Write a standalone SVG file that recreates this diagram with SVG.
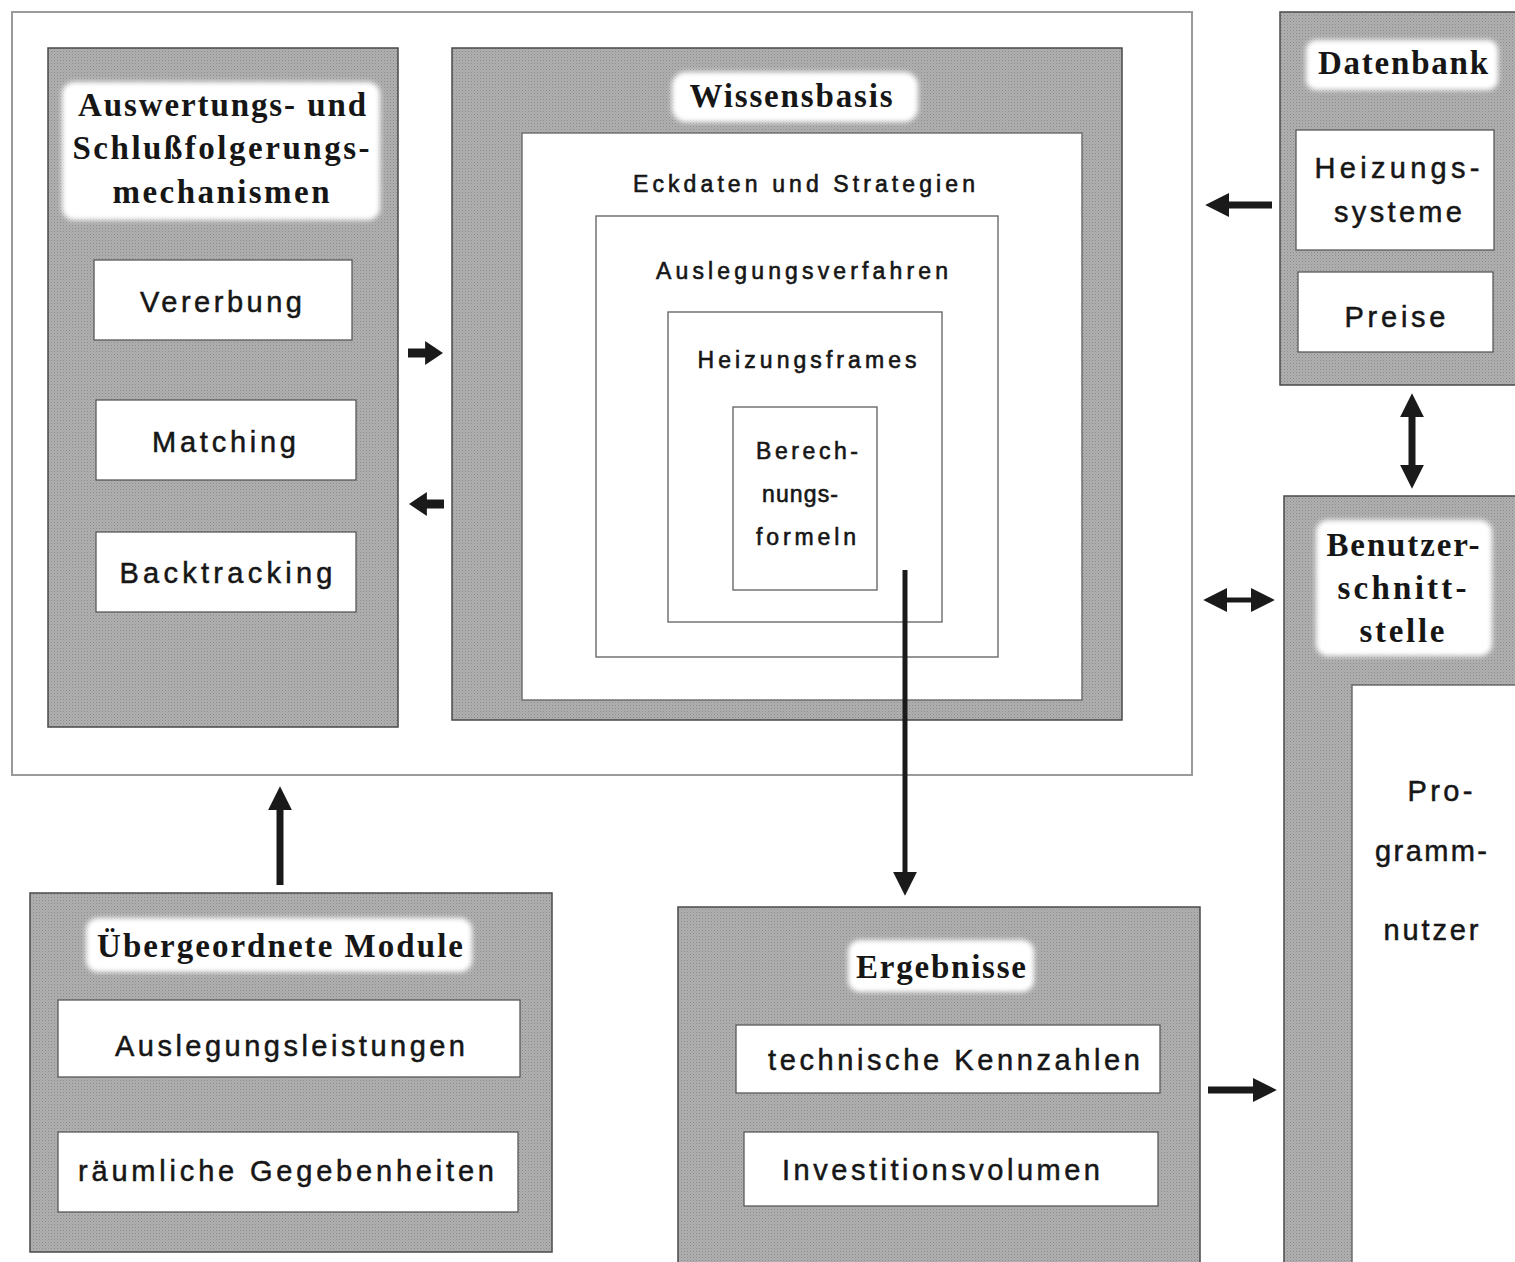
<svg xmlns="http://www.w3.org/2000/svg" width="1515" height="1262" viewBox="0 0 1515 1262">
  <defs>
    <style>
      .panel { fill: url(#stipple); stroke: #4a4a4a; stroke-width: 1.5; }
      .head { fill: #ffffff; filter: url(#soft); }
      .item { fill: #ffffff; stroke: #5a5a5a; stroke-width: 1.3; }
      .nest { fill: #ffffff; stroke: #6a6a6a; stroke-width: 1.4; }
      .frame { fill: #ffffff; stroke: #9a9a9a; stroke-width: 2; }
      .hd { font-family: "Liberation Serif", "Times New Roman", serif; font-weight: bold; font-size: 33px; fill: #161616; text-anchor: middle; }
      .it { font-family: "Liberation Sans", Arial, sans-serif; font-size: 29px; fill: #161616; stroke: #161616; stroke-width: 0.5; text-anchor: middle; }
      .kb { font-family: "Liberation Sans", Arial, sans-serif; font-size: 23px; fill: #161616; stroke: #161616; stroke-width: 0.6; text-anchor: middle; }
      .conn { stroke: #1a1a1a; fill: none; }
    </style>
    <pattern id="stipple" width="3" height="3" patternUnits="userSpaceOnUse">
      <rect width="3" height="3" fill="#b0b0b0"/>
      <rect x="0" y="0" width="1" height="1" fill="#8a8a8a"/>
      <rect x="1.5" y="1.5" width="1" height="1" fill="#989898"/>
    </pattern>
    <filter id="soft" x="-10%" y="-20%" width="120%" height="140%">
      <feGaussianBlur stdDeviation="2.5"/>
    </filter>
    <marker id="hs" viewBox="0 0 10 10" refX="0.5" refY="5" markerUnits="userSpaceOnUse" markerWidth="18" markerHeight="24" orient="auto-start-reverse" preserveAspectRatio="none">
      <path d="M0,0 L10,5 L0,10 z" fill="#1a1a1a"/>
    </marker>
    <marker id="hm" viewBox="0 0 10 10" refX="0.5" refY="5" markerUnits="userSpaceOnUse" markerWidth="24" markerHeight="24" orient="auto-start-reverse" preserveAspectRatio="none">
      <path d="M0,0 L10,5 L0,10 z" fill="#1a1a1a"/>
    </marker>
  </defs>

  <rect width="1515" height="1262" fill="#ffffff"/>

  <!-- enclosing system frame -->
  <rect id="system-frame" class="frame" x="12" y="12" width="1180" height="763"/>

  <!-- inference mechanisms -->
  <g id="node-auswertung">
    <rect class="panel" x="48" y="48" width="350" height="679"/>
    <rect class="head" x="62" y="82" width="318" height="138" rx="12"/>
    <text class="hd" x="222" y="116" textLength="288" lengthAdjust="spacing">Auswertungs- und</text>
    <text class="hd" x="221" y="159" textLength="297" lengthAdjust="spacing">Schlußfolgerungs-</text>
    <text class="hd" x="221" y="203" textLength="217" lengthAdjust="spacing">mechanismen</text>
    <g id="node-vererbung">
      <rect class="item" x="94" y="260" width="258" height="80"/>
      <text class="it" x="221" y="312" textLength="162" lengthAdjust="spacing">Vererbung</text>
    </g>
    <g id="node-matching">
      <rect class="item" x="96" y="400" width="260" height="80"/>
      <text class="it" x="224" y="452" textLength="144" lengthAdjust="spacing">Matching</text>
    </g>
    <g id="node-backtracking">
      <rect class="item" x="96" y="532" width="260" height="80"/>
      <text class="it" x="226" y="583" textLength="213" lengthAdjust="spacing">Backtracking</text>
    </g>
  </g>

  <!-- knowledge base with nested layers -->
  <g id="node-wissensbasis">
    <rect class="panel" x="452" y="48" width="670" height="672"/>
    <rect class="head" x="672" y="72" width="246" height="50" rx="14"/>
    <text class="hd" x="791" y="107" textLength="203" lengthAdjust="spacing">Wissensbasis</text>
    <g id="node-eckdaten">
      <rect class="nest" x="522" y="133" width="560" height="567"/>
      <text class="kb" x="804" y="192" textLength="342" lengthAdjust="spacing">Eckdaten und Strategien</text>
    </g>
    <g id="node-auslegungsverfahren">
      <rect class="nest" x="596" y="216" width="402" height="441"/>
      <text class="kb" x="802" y="279" textLength="292" lengthAdjust="spacing">Auslegungsverfahren</text>
    </g>
    <g id="node-heizungsframes">
      <rect class="nest" x="668" y="312" width="274" height="310"/>
      <text class="kb" x="807" y="368" textLength="219" lengthAdjust="spacing">Heizungsframes</text>
    </g>
    <g id="node-berechnungsformeln">
      <rect class="nest" x="733" y="407" width="144" height="183"/>
      <text class="kb" x="807" y="459" font-size="21" textLength="102" lengthAdjust="spacing">Berech-</text>
      <text class="kb" x="800" y="502" font-size="21" textLength="76" lengthAdjust="spacing">nungs-</text>
      <text class="kb" x="806" y="545" font-size="21" textLength="100" lengthAdjust="spacing">formeln</text>
    </g>
  </g>

  <!-- database -->
  <g id="node-datenbank">
    <rect class="panel" x="1280" y="12" width="245" height="373"/>
    <rect class="head" x="1306" y="40" width="192" height="50" rx="10"/>
    <text class="hd" x="1403" y="74" textLength="170" lengthAdjust="spacing">Datenbank</text>
    <g id="node-heizungssysteme">
      <rect class="item" x="1296" y="130" width="198" height="120"/>
      <text class="it" x="1397" y="178" font-size="28" textLength="165" lengthAdjust="spacing">Heizungs-</text>
      <text class="it" x="1398" y="222" font-size="28" textLength="128" lengthAdjust="spacing">systeme</text>
    </g>
    <g id="node-preise">
      <rect class="item" x="1298" y="272" width="195" height="80"/>
      <text class="it" x="1395" y="327" font-size="28" textLength="101" lengthAdjust="spacing">Preise</text>
    </g>
  </g>

  <!-- user interface -->
  <g id="node-benutzerschnittstelle">
    <rect class="panel" x="1284" y="496" width="245" height="775"/>
    <rect class="head" x="1316" y="520" width="176" height="136" rx="12"/>
    <text class="hd" x="1403" y="556" textLength="153" lengthAdjust="spacing">Benutzer-</text>
    <text class="hd" x="1402" y="599" textLength="129" lengthAdjust="spacing">schnitt-</text>
    <text class="hd" x="1402" y="642" textLength="85" lengthAdjust="spacing">stelle</text>
    <g id="node-programmnutzer">
      <rect class="item" x="1352" y="685" width="175" height="590"/>
      <text class="it" x="1440" y="801" font-size="28" textLength="65" lengthAdjust="spacing">Pro-</text>
      <text class="it" x="1431" y="861" font-size="28" textLength="112" lengthAdjust="spacing">gramm-</text>
      <text class="it" x="1431" y="940" font-size="28" textLength="95" lengthAdjust="spacing">nutzer</text>
    </g>
  </g>

  <!-- superordinate modules -->
  <g id="node-module">
    <rect class="panel" x="30" y="893" width="522" height="359"/>
    <rect class="head" x="86" y="918" width="386" height="54" rx="12"/>
    <text class="hd" x="280" y="957" textLength="366" lengthAdjust="spacing">Übergeordnete Module</text>
    <g id="node-auslegungsleistungen">
      <rect class="item" x="58" y="1000" width="462" height="77"/>
      <text class="it" x="290" y="1056" textLength="350" lengthAdjust="spacing">Auslegungsleistungen</text>
    </g>
    <g id="node-gegebenheiten">
      <rect class="item" x="58" y="1132" width="460" height="80"/>
      <text class="it" x="286" y="1181" textLength="416" lengthAdjust="spacing">räumliche Gegebenheiten</text>
    </g>
  </g>

  <!-- results -->
  <g id="node-ergebnisse">
    <rect class="panel" x="678" y="907" width="522" height="365"/>
    <rect class="head" x="848" y="940" width="186" height="52" rx="12"/>
    <text class="hd" x="941" y="978" textLength="170" lengthAdjust="spacing">Ergebnisse</text>
    <g id="node-kennzahlen">
      <rect class="item" x="736" y="1025" width="424" height="68"/>
      <text class="it" x="954" y="1070" textLength="372" lengthAdjust="spacing">technische Kennzahlen</text>
    </g>
    <g id="node-investition">
      <rect class="item" x="744" y="1132" width="414" height="74"/>
      <text class="it" x="941" y="1180" textLength="318" lengthAdjust="spacing">Investitionsvolumen</text>
    </g>
  </g>

  <!-- connectors -->
  <g id="connectors" class="conn">
    <path d="M408,353 L426,353" stroke-width="9" marker-end="url(#hs)"/>
    <path d="M444,504 L426,504" stroke-width="9" marker-end="url(#hs)"/>
    <path d="M1272,205 L1228,205" stroke-width="7" marker-end="url(#hm)"/>
    <path d="M1412,416 L1412,466" stroke-width="7" marker-start="url(#hm)" marker-end="url(#hm)"/>
    <path d="M1226,600 L1252,600" stroke-width="5" marker-start="url(#hm)" marker-end="url(#hm)"/>
    <path d="M1208,1090 L1254,1090" stroke-width="7" marker-end="url(#hm)"/>
    <path d="M280,885 L280,809" stroke-width="7" marker-end="url(#hm)"/>
    <path d="M905,570 L905,873" stroke-width="5" marker-end="url(#hm)"/>
  </g>
</svg>
